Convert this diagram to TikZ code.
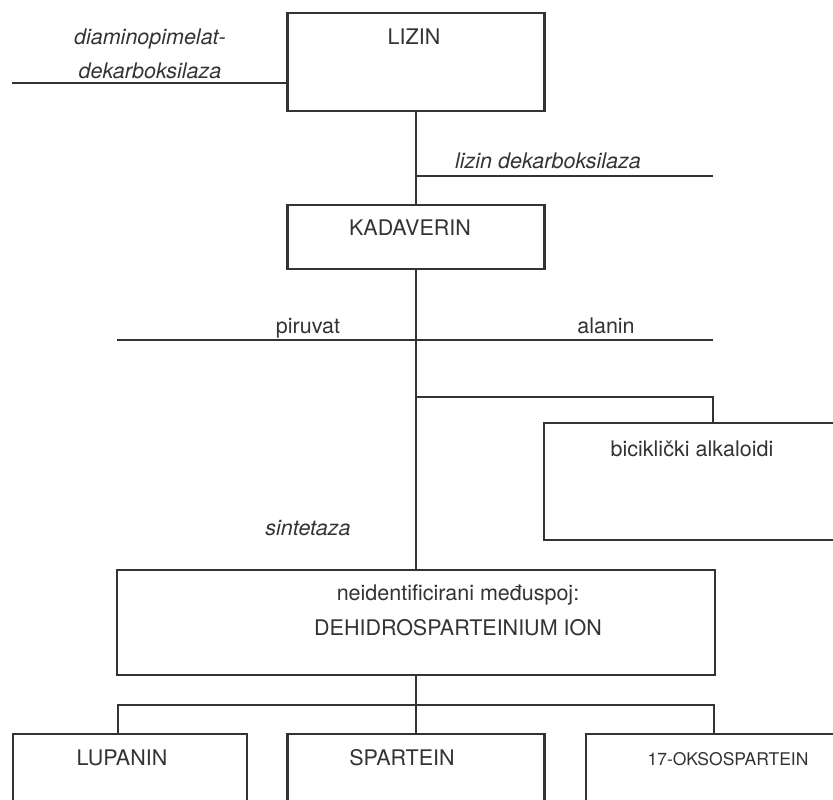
\documentclass[tikz,border=0pt]{standalone}
\usepackage{fontspec}
\setmainfont{TeX Gyre Heros}
\definecolor{ink}{HTML}{333333}

\begin{document}
\begin{tikzpicture}[x=1pt,y=-1pt,
  box/.style={draw=ink,line width=2.2pt,rectangle,inner sep=0pt},
  conn/.style={draw=ink,line width=2.2pt},
  lbl/.style={text=ink,anchor=base,inner sep=0pt,font=\fontsize{21.5}{24}\selectfont},
  enz/.style={lbl,font=\fontsize{21.5}{24}\selectfont\itshape}]
\clip (0,0) rectangle (833,800);
\fill[white] (0,0) rectangle (833,800);

\node[box,minimum width=257pt,minimum height=98pt] (lizin) at (416,62) {};
\node[box,minimum width=257pt,minimum height=64pt] (kadaverin) at (416,237) {};
\node[box,minimum width=300pt,minimum height=117pt] (biciklicki) at (694,481.5) {};
\node[box,minimum width=598pt,minimum height=105pt] (medjuspoj) at (416,622.5) {};
\node[box,minimum width=234pt,minimum height=100pt] (lupanin) at (130,784) {};
\node[box,minimum width=257pt,minimum height=100pt] (spartein) at (416,784) {};
\node[box,minimum width=260pt,minimum height=100pt] (oksospartein) at (716,784) {};

\node[lbl] (tLizin) at (414,45) {LIZIN};
\node[lbl] (tKadaverin) at (410,235) {KADAVERIN};
\node[lbl] (tBiciklicki) at (692,456) {bicikli\v{c}ki alkaloidi};
\node[lbl] (tMedjuspoj) at (458,600) {neidentificirani međuspoj:};
\node[lbl] (tIon) at (458,635) {DEHIDROSPARTEINIUM ION};
\node[lbl] (tLupanin) at (122,765) {LUPANIN};
\node[lbl] (tSpartein) at (402,765) {SPARTEIN};
\node[lbl,font=\fontsize{17.5}{20}\selectfont] (tOksospartein) at (728,765) {17-OKSOSPARTEIN};

\node[enz] (eDap1) at (150,45) {diaminopimelat-};
\node[enz] (eDap2) at (150,79) {dekarboksilaza};
\node[enz] (eLdc) at (548,168) {lizin dekarboksilaza};
\node[lbl] (tPiruvat) at (308,333) {piruvat};
\node[lbl] (tAlanin) at (606,333) {alanin};
\node[enz] (eSint) at (308,535) {sintetaza};

\coordinate (dapL) at (12,83);
\coordinate (ldcR) at (713,176);
\coordinate (pirL) at (117,340);
\coordinate (alaR) at (713,340);
\coordinate (bicK) at (713,397);
\coordinate (splitL) at (118,705);
\coordinate (splitR) at (714,705);

\draw[conn] (dapL) -- (dapL -| lizin.west);
\draw[conn] (lizin.south) -- (kadaverin.north);
\draw[conn] (ldcR -| lizin.south) -- (ldcR);
\draw[conn] (kadaverin.south) -- (medjuspoj.north);
\draw[conn] (pirL) -- (alaR);
\draw[conn] (bicK -| kadaverin.south) -- (bicK) -- (bicK |- biciklicki.north);
\draw[conn] (medjuspoj.south) -- (spartein.north);
\draw[conn] (splitL |- lupanin.north) -- (splitL) -- (splitR) -- (splitR |- oksospartein.north);
\end{tikzpicture}
\end{document}
